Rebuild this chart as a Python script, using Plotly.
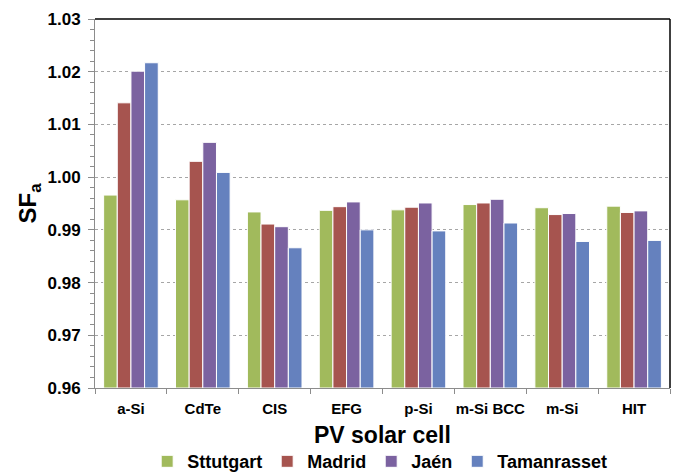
import plotly.graph_objects as go

cells = ["a-Si", "CdTe", "CIS", "EFG", "p-Si", "m-Si BCC", "m-Si", "HIT"]
stuttgart = [0.9966, 0.9957, 0.9934, 0.9937, 0.9938, 0.9948, 0.9942, 0.9945]
madrid = [1.0141, 1.0030, 0.9911, 0.9944, 0.9943, 0.9951, 0.9929, 0.9933]
jaen = [1.0201, 1.0066, 0.9906, 0.9953, 0.9951, 0.9958, 0.9931, 0.9936]
tamanrasset = [1.0217, 1.0009, 0.9866, 0.9900, 0.9898, 0.9913, 0.9878, 0.9880]

BASE = 0.96
series = [
    ("Sttutgart", stuttgart, "#A1BA5C"),
    ("Madrid", madrid, "#A6544F"),
    ("Jaén", jaen, "#7B62A0"),
    ("Tamanrasset", tamanrasset, "#6581BE"),
]

FONT = "Liberation Sans, Arial, sans-serif"

fig = go.Figure()
for name, vals, col in series:
    fig.add_trace(go.Bar(
        x=cells, y=[v - BASE for v in vals], base=BASE, name=name,
        marker=dict(color=col, line=dict(color="white", width=1)),
    ))

fig.update_layout(
    width=678, height=472,
    margin=dict(l=95, r=8, t=19, b=84),
    plot_bgcolor="white", paper_bgcolor="white",
    barmode="group", bargap=0.24, bargroupgap=0.0,
    font=dict(family=FONT, color="black"),
    showlegend=True,
    legend=dict(orientation="h", x=0.56, xanchor="center", xref="container",
                y=0.022, yanchor="middle", yref="container",
                font=dict(size=18, family=FONT, weight="bold"),
                itemwidth=30, tracegroupgap=0),
    xaxis=dict(
        tickfont=dict(size=15, family=FONT, weight="bold"),
        tickangle=0, automargin=False,
        ticklabelstandoff=7,
        showline=True, linecolor="#8c8c8c", linewidth=1,
        ticks="outside", tickson="boundaries", ticklen=5, tickcolor="#8c8c8c",
        showgrid=False,
    ),
    yaxis=dict(
        title=dict(text="SF<sub>a</sub>", font=dict(size=24, family=FONT, weight="bold"), standoff=4),
        automargin=False,
        range=[0.96, 1.03],
        tickvals=[0.96, 0.97, 0.98, 0.99, 1.00, 1.01, 1.02, 1.03],
        ticktext=["0.96", "0.97", "0.98", "0.99", "1.00", "1.01", "1.02", "1.03"],
        tickfont=dict(size=17, family=FONT, weight="bold"),
        ticklabelstandoff=4,
        showline=True, linecolor="#8c8c8c", linewidth=1,
        ticks="outside", ticklen=6, tickcolor="#8c8c8c",
        showgrid=True, gridcolor="#a6a6a6", griddash="dot", gridwidth=1,
        minor=dict(dtick=0.002, ticks="outside", ticklen=4, tickcolor="#8c8c8c", showgrid=False),
        zeroline=False,
    ),
)

fig.add_annotation(text="PV solar cell", xref="paper", yref="paper", x=0.5, y=-0.127,
                   xanchor="center", yanchor="middle", showarrow=False,
                   font=dict(size=23, family=FONT, weight="bold", color="black"))

fig.add_shape(type="line", xref="paper", yref="paper", x0=0, x1=1, y0=1, y1=1,
              line=dict(color="black", width=1.5))
fig.add_shape(type="line", xref="paper", yref="paper", x0=1, x1=1, y0=0, y1=1,
              line=dict(color="black", width=1.5))

fig.write_html("out.html")
